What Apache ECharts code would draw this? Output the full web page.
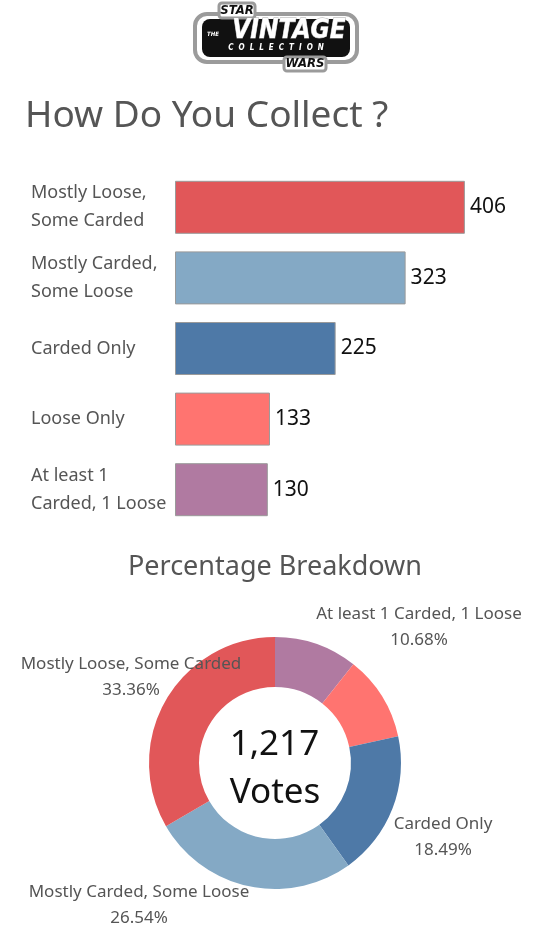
<!DOCTYPE html>
<html>
<head>
<meta charset="utf-8">
<script src="https://cdn.jsdelivr.net/npm/echarts@6/dist/echarts.min.js"></script>
<style>
  html, body { margin: 0; padding: 0; background: #fff; }
  #chart { width: 550px; height: 934px; }
</style>
</head>
<body>
<div id="chart"></div>
<script>
// answers in the order of the bar chart
const categories = [
  'Mostly Loose,\nSome Carded',
  'Mostly Carded,\nSome Loose',
  'Carded Only',
  'Loose Only',
  'At least 1\nCarded, 1 Loose',
]
const votes = [406, 323, 225, 133, 130]
const colors = ['#e15759', '#84a9c5', '#4e79a7', '#ff7470', '#b07aa1']

// donut goes clockwise from 12 o'clock
const pieNames = [
  'At least 1 Carded, 1 Loose',
  'Loose Only',
  'Carded Only',
  'Mostly Carded, Some Loose',
  'Mostly Loose, Some Carded',
]
const pieVotes = [130, 133, 225, 323, 406]
const pieColors = ['#b07aa1', '#ff7470', '#4e79a7', '#84a9c5', '#e15759']
const pieShowLabel = [true, false, true, true, true]
// where Tableau put each slice label (centre of text block)
const pieLabelPos = [[419, 627], [0, 0], [443, 837], [139, 905], [131, 677]]

const total = votes.reduce((a, b) => a + b, 0)
const FONT = '"Noto Sans", sans-serif'
const GREY = '#555'
const LOGO = '"DejaVu Sans Condensed", "DejaVu Sans"'

const chart = echarts.init(document.getElementById('chart'))

chart.setOption({
  animation: false,
  textStyle: { fontFamily: FONT },
  title: [
    {
      text: 'How Do You Collect ?',
      left: 20,
      top: 93,
      textStyle: { fontSize: 37, fontWeight: 'normal', color: GREY, fontFamily: FONT },
    },
    {
      text: 'Percentage Breakdown',
      left: 'center',
      top: 549,
      textStyle: { fontSize: 27, fontWeight: 'normal', color: GREY, fontFamily: FONT },
    },
  ],
  grid: { left: 175, top: 172, width: 357, height: 353, containLabel: false },
  xAxis: { type: 'value', min: 0, max: 500, show: false },
  yAxis: {
    type: 'category',
    inverse: true,
    data: categories,
    axisLine: { show: false },
    axisTick: { show: false },
    axisLabel: {
      align: 'left',
      margin: 144,
      color: GREY,
      fontSize: 18,
      lineHeight: 28,
      padding: [4, 0, 0, 0],
      fontFamily: FONT,
    },
  },
  series: [
    {
      type: 'bar',
      barWidth: 53,
      data: votes.map((v, i) => ({
        value: v,
        itemStyle: { color: colors[i], borderColor: '#9a9a9a', borderWidth: 1 },
      })),
      label: {
        show: true,
        position: 'right',
        distance: 5,
        color: '#111',
        fontSize: 21,
        fontFamily: FONT,
      },
    },
    {
      type: 'pie',
      center: [275, 763],
      radius: [76, 126],
      startAngle: 90,
      clockwise: true,
      data: pieNames.map((n, i) => ({
        name: n,
        value: pieVotes[i],
        itemStyle: { color: pieColors[i] },
        label: { show: pieShowLabel[i] },
      })),
      label: {
        position: 'outside',
        formatter: (p) => p.name + '\n' + ((p.value / total) * 100).toFixed(2) + '%',
        color: GREY,
        fontSize: 17,
        lineHeight: 26,
        align: 'center',
        overflow: 'none',
        width: 300,
        fontFamily: FONT,
      },
      labelLine: { show: false },
      labelLayout: (p) => {
        const pos = pieLabelPos[p.dataIndex]
        return { x: pos[0], y: pos[1], align: 'center', verticalAlign: 'middle' }
      },
    },
  ],
  graphic: [
    {
      type: 'text',
      left: 'center',
      top: 721,
      style: {
        text: total.toLocaleString('en-US') + '\nVotes',
        font: '35px ' + FONT,
        lineHeight: 48,
        fill: '#111',
        align: 'center',
      },
    },
    // logo, drawn roughly
    { type: 'rect', shape: { x: 195, y: 14, width: 162, height: 48, r: 12 }, style: { fill: '#fff', stroke: '#9b9b9b', lineWidth: 4 } },
    { type: 'rect', shape: { x: 202, y: 19, width: 148, height: 38, r: 8 }, style: { fill: '#111' } },
    { type: 'rect', shape: { x: 219, y: 3, width: 36, height: 15, r: 3 }, style: { fill: '#fff', stroke: '#9b9b9b', lineWidth: 3 } },
    { type: 'text', x: 237, y: 4, style: { text: 'STAR', font: 'italic bold 13px ' + LOGO, fill: '#111', align: 'center' } },
    { type: 'rect', shape: { x: 284, y: 57, width: 42, height: 14, r: 3 }, style: { fill: '#fff', stroke: '#9b9b9b', lineWidth: 3 } },
    { type: 'text', x: 305, y: 57, style: { text: 'WARS', font: 'italic bold 13px ' + LOGO, fill: '#111', align: 'center' } },
    { type: 'text', x: 207, y: 31, style: { text: 'THE', font: 'italic bold 6px ' + LOGO, fill: '#fff' } },
    { type: 'text', x: 289, y: 18, style: { text: 'VINTAGE', font: 'italic bold 26px ' + LOGO, fill: '#fff', align: 'center', stroke: '#aaa', lineWidth: 0.8 } },
    { type: 'text', x: 276, y: 44, style: { text: 'C  O  L  L  E  C  T  I  O  N', font: 'italic bold 8px ' + LOGO, fill: '#fff', align: 'center' } },
  ],
})
</script>
</body>
</html>
